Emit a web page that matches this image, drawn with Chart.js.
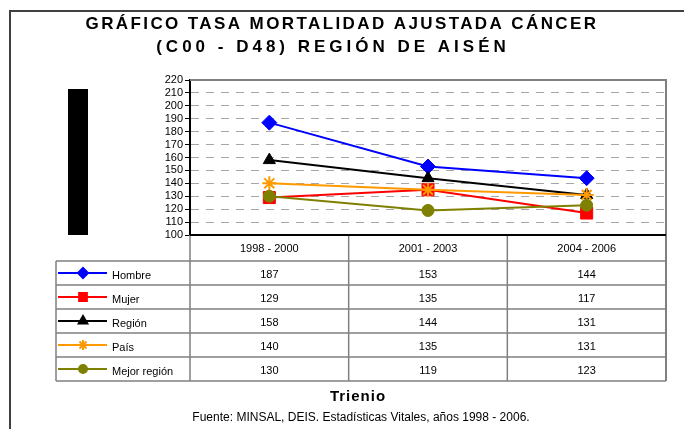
<!DOCTYPE html>
<html>
<head>
<meta charset="utf-8">
<script src="https://cdn.jsdelivr.net/npm/chart.js"></script>
<style>
  body { margin: 0; background: #fff; }
  canvas { display: block; }
</style>
</head>
<body>
<canvas id="chart" width="684" height="429"></canvas>
<script>
// ===============================
// Data
// ===============================
const trienios = ["1998 - 2000", "2001 - 2003", "2004 - 2006"];
const seriesNames = ["Hombre", "Mujer", "Región", "País", "Mejor región"];
const hombre = [187, 153, 144];
const mujer = [129, 135, 117];
const region = [158, 144, 131];
const pais = [140, 135, 131];
const mejorRegion = [130, 119, 123];
const yTicks = { min: 100, max: 220, step: 10 };

const titleLines = ["GRÁFICO TASA MORTALIDAD AJUSTADA CÁNCER", "(C00 - D48) REGIÓN DE AISÉN"];
const xTitle = "Trienio";
const sourceText = "Fuente: MINSAL, DEIS. Estadísticas Vitales, años 1998 - 2006.";

const FONT = '"Liberation Sans", Arial, sans-serif';

const styles = [
    { color: '#0000ff', point: 'rectRot', radius: 7.5, keyRadius: 5 },
    { color: '#ff0000', point: 'rect', radius: 8.5, keyRadius: 5.5 },
    { color: '#000000', point: 'triangle', radius: 7, keyRadius: 5 },
    { color: '#ff9900', point: 'star', radius: 7, keyRadius: 5 },
    { color: '#808000', point: 'circle', radius: 6, keyRadius: 4 }
];
const allValues = [hombre, mujer, region, pais, mejorRegion];

const datasets = allValues.map((vals, i) => ({
    label: seriesNames[i],
    data: vals,
    borderColor: styles[i].color,
    backgroundColor: styles[i].color,
    pointBackgroundColor: styles[i].color,
    pointBorderColor: styles[i].color,
    pointStyle: styles[i].point,
    pointRadius: styles[i].radius,
    pointBorderWidth: styles[i].point === 'star' ? 2 : 1,
    borderWidth: 2,
    tension: 0,
    fill: false,
    order: allValues.length - i
}));

// ===============================
// Decorations: titles, frame, data table
// ===============================
const tablePlugin = {
    id: 'tablePlugin',
    afterDraw(chart) {
        const c = chart.ctx;
        const area = chart.chartArea;
        const xs = chart.scales.x;
        const rowH = 24;
        const headH = 26;
        const tableLeft = 56;
        const headBottom = area.bottom + headH;
        const tableBottom = headBottom + rowH * seriesNames.length;
        const colW = xs.width / trienios.length;

        c.save();

        // outer border
        c.strokeStyle = '#404040';
        c.lineWidth = 2;
        c.beginPath();
        c.moveTo(10, 429);
        c.lineTo(10, 11);
        c.lineTo(684, 11);
        c.stroke();

        // title
        c.fillStyle = '#000';
        c.textAlign = 'center';
        c.textBaseline = 'middle';
        c.font = 'bold 17px ' + FONT;
        c.letterSpacing = '2.4px';
        c.fillText(titleLines[0], 342, 24);
        c.letterSpacing = '4px';
        c.fillText(titleLines[1], 333, 47);
        c.letterSpacing = '0px';

        // redacted axis title block
        c.fillRect(68, 89, 20, 146);

        // plot frame (top and right)
        c.strokeStyle = '#808080';
        c.lineWidth = 2;
        c.beginPath();
        c.moveTo(area.left, area.top);
        c.lineTo(area.right, area.top);
        c.lineTo(area.right, tableBottom);
        c.stroke();

        // table grid
        c.lineWidth = 1.5;
        c.beginPath();
        for (let r = 0; r <= seriesNames.length; r++) {
            const y = headBottom + r * rowH;
            c.moveTo(tableLeft, y);
            c.lineTo(area.right, y);
        }
        c.moveTo(tableLeft, headBottom);
        c.lineTo(tableLeft, tableBottom);
        for (let k = 0; k < trienios.length; k++) {
            const x = xs.getPixelForValue(k) - colW / 2;
            c.moveTo(x, area.bottom);
            c.lineTo(x, tableBottom);
        }
        c.stroke();

        // axis line on top of table
        c.strokeStyle = '#000';
        c.lineWidth = 2;
        c.beginPath();
        c.moveTo(area.left, area.bottom);
        c.lineTo(area.right, area.bottom);
        c.stroke();

        // header labels
        c.fillStyle = '#000';
        c.font = '11px ' + FONT;
        c.textAlign = 'center';
        trienios.forEach((t, k) => {
            c.fillText(t, xs.getPixelForValue(k), area.bottom + headH / 2 + 1);
        });

        // rows
        allValues.forEach((vals, i) => {
            const yc = headBottom + i * rowH + rowH / 2;
            const st = styles[i];
            c.strokeStyle = st.color;
            c.fillStyle = st.color;
            c.lineWidth = 2;
            c.beginPath();
            c.moveTo(58, yc);
            c.lineTo(107, yc);
            c.stroke();
            Chart.helpers.drawPoint(c, {
                pointStyle: st.point,
                radius: st.keyRadius,
                rotation: 0,
                borderWidth: st.point === 'star' ? 2 : 1
            }, 83, yc);
            c.fillStyle = '#000';
            c.textAlign = 'left';
            c.fillText(seriesNames[i], 112, yc + 3);
            c.textAlign = 'center';
            vals.forEach((v, k) => {
                c.fillText(String(v), xs.getPixelForValue(k), yc + 2);
            });
        });

        // x title and source
        c.font = 'bold 15px ' + FONT;
        c.letterSpacing = '1px';
        c.fillText(xTitle, 358, 397);
        c.letterSpacing = '0px';
        c.font = '12px ' + FONT;
        c.fillText(sourceText, 361, 418);

        c.restore();
    }
};

const whiteBg = {
    id: 'whiteBg',
    beforeDraw(chart) {
        const c = chart.ctx;
        c.save();
        c.fillStyle = '#fff';
        c.fillRect(0, 0, chart.width, chart.height);
        c.restore();
    }
};

// ===============================
// Chart
// ===============================
const chart = new Chart(document.getElementById('chart').getContext('2d'), {
    type: 'line',
    data: { labels: trienios, datasets: datasets },
    options: {
        responsive: false,
        devicePixelRatio: 1,
        animation: false,
        layout: { padding: { left: 0, top: 80, right: 18, bottom: 0 } },
        plugins: {
            legend: { display: false },
            tooltip: { enabled: false },
            title: { display: false }
        },
        scales: {
            x: {
                offset: true,
                grid: { display: false },
                ticks: { display: false },
                border: { display: true, color: '#000', width: 2 },
                afterFit(scale) { scale.height = 194; }
            },
            y: {
                min: yTicks.min,
                max: yTicks.max,
                ticks: {
                    stepSize: yTicks.step,
                    autoSkip: false,
                    color: '#000',
                    padding: 2,
                    font: { family: FONT, size: 11 }
                },
                grid: {
                    color: '#a6a6a6',
                    lineWidth: 1,
                    tickColor: '#000',
                    tickLength: 5,
                    tickBorderDash: []
                },
                border: { display: true, color: '#000', width: 2, dash: [8, 7] },
                afterFit(scale) { scale.width = 190; }
            }
        }
    },
    plugins: [whiteBg, tablePlugin]
});
</script>
</body>
</html>
